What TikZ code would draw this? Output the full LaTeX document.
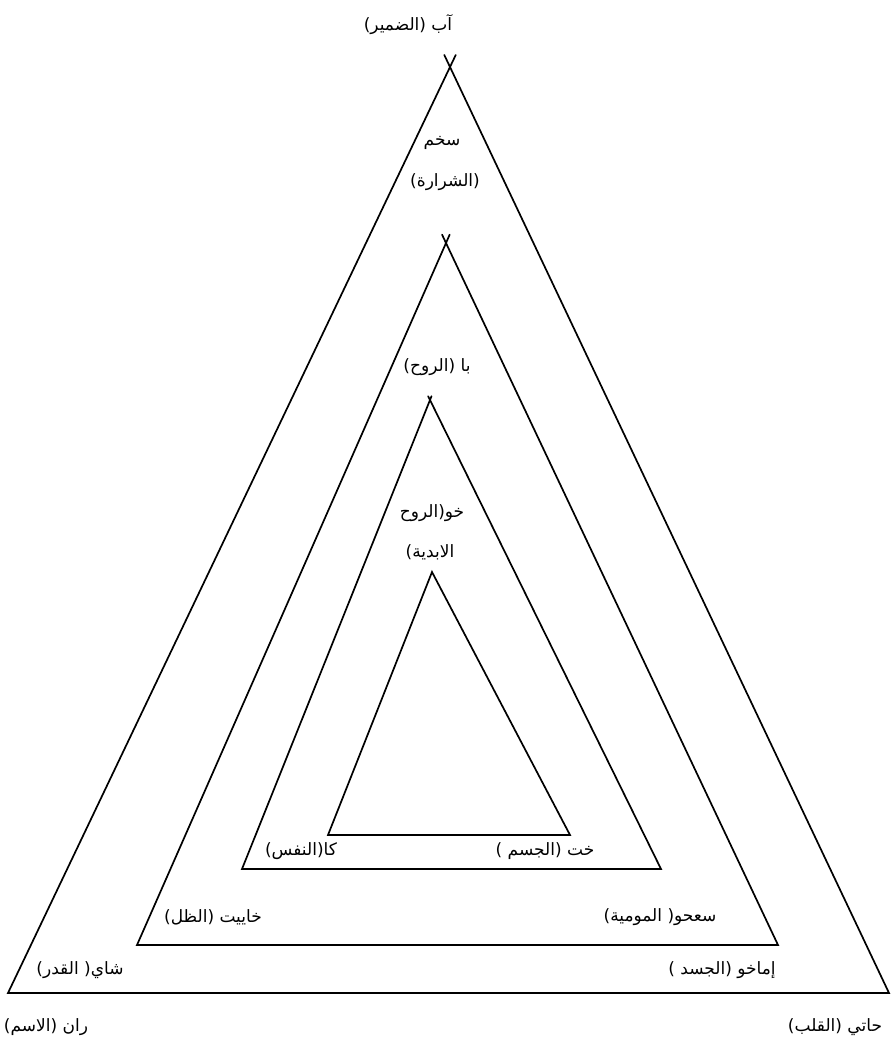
\documentclass[tikz,border=0pt]{standalone}
\usepackage{fontspec}
\newfontfamily\arabicfont[Script=Arabic]{DejaVu Sans}
\TeXXeTstate=1
\usetikzlibrary{calc}
\tikzset{
  edge/.style={line width=1.7pt, line cap=round},
  lbl/.style={font=\arabicfont\fontsize{17}{19}\selectfont, inner sep=1pt},
}
\newcommand{\ar}[1]{\beginR #1\endR}
\begin{document}
\begin{tikzpicture}[x=1pt,y=-1pt]
\useasboundingbox (0,0) rectangle (891,1049);
% outer triangle
\coordinate (t1a) at (450,67);
\coordinate (t1l) at (8,993);
\coordinate (t1r) at (889,993);
% second
\coordinate (t2a) at (446,243);
\coordinate (t2l) at (137,945);
\coordinate (t2r) at (778,945);
% third
\coordinate (t3a) at (430,400);
\coordinate (t3l) at (242,869);
\coordinate (t3r) at (661,869);
% inner
\coordinate (t4a) at (432,572);
\coordinate (t4l) at (328,835);
\coordinate (t4r) at (570,835);

\draw[edge] ($(t1l)!1.013!(t1a)$) -- (t1l) -- (t1r) -- ($(t1r)!1.013!(t1a)$);
\draw[edge] ($(t2l)!1.012!(t2a)$) -- (t2l) -- (t2r) -- ($(t2r)!1.012!(t2a)$);
\draw[edge] ($(t3l)!1.008!(t3a)$) -- (t3l) -- (t3r) -- ($(t3r)!1.008!(t3a)$);
\draw[edge] (t4a) -- (t4l) -- (t4r) -- cycle;

\node[lbl] (ab) at (408,25) {\ar{آب (الضمير)}};
\node[lbl] (sekhem) at (442,143) {\ar{سخم}};
\node[lbl] (sekhem2) at (445,182) {\ar{(الشرارة)}};
\node[lbl] (ba) at (437,367) {\ar{با (الروح)}};
\node[lbl] (khu) at (432,513) {\ar{خو(الروح}};
\node[lbl] (khu2) at (430,552) {\ar{الابدية)}};
\node[lbl] (ka) at (301,851) {\ar{كا(النفس)}};
\node[lbl] (khat) at (545,851) {\ar{خت (الجسم )}};
\node[lbl] (khaibit) at (213,917) {\ar{خاييت (الظل)}};
\node[lbl] (sahu) at (660,917) {\ar{سعحو( المومية)}};
\node[lbl] (shai) at (80,970) {\ar{شاي( القدر)}};
\node[lbl] (imakhu) at (722,970) {\ar{إماخو (الجسد )}};
\node[lbl] (ren) at (46,1027) {\ar{ران (الاسم)}};
\node[lbl] (hati) at (835,1027) {\ar{حاتي (القلب)}};
\end{tikzpicture}
\end{document}
